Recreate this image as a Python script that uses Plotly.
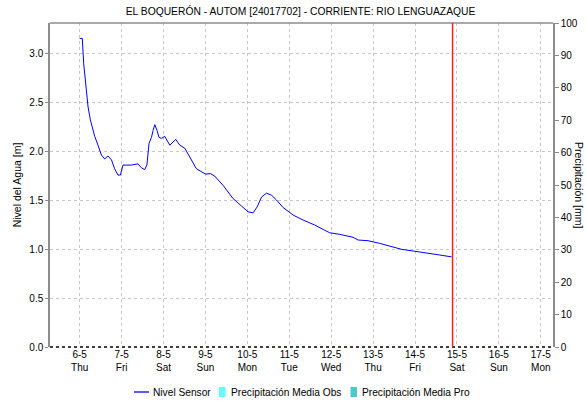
import plotly.graph_objects as go
import pandas as pd

# Water level series: hours since 2021-05-06 00:00 and level in metres
hours = [0, 1.5, 2.3, 3.4, 4.8, 6.1, 8.6, 10.5, 12.4, 14.3, 16.2, 18.2, 20.0, 21.9, 23.3,
         24.8, 29.6, 33.4, 35.3, 37.2, 38.5, 39.7, 41.1, 42.0, 43.0, 44.3, 45.4, 46.8,
         48.7, 51.6, 55.0, 57.3, 60.1, 63.0, 66.8, 70.6, 72.2, 74.9, 77.3, 82.1, 87.8,
         92.6, 96.4, 99.3, 101.6, 104.1, 106.9, 109.8, 112.7, 116.4, 120.3, 122.2,
         127.9, 134.6, 139.4, 143.2, 148.9, 156.5, 159.4, 165.1, 171.8, 177.6, 184.3,
         190.9, 198.6, 206.2, 213.0]
nivel = [3.15, 3.15, 2.89, 2.69, 2.45, 2.32, 2.15, 2.06, 1.96, 1.92, 1.95, 1.91, 1.82, 1.755,
         1.755, 1.857, 1.857, 1.87, 1.83, 1.81, 1.86, 2.08, 2.14, 2.21, 2.27, 2.21, 2.14,
         2.13, 2.15, 2.06, 2.12, 2.06, 2.03, 1.94, 1.82, 1.78, 1.765, 1.77, 1.745, 1.65,
         1.515, 1.44, 1.38, 1.37, 1.43, 1.53, 1.57, 1.55, 1.50, 1.425, 1.37, 1.347,
         1.296, 1.245, 1.20, 1.166, 1.15, 1.12, 1.092, 1.085, 1.058, 1.03, 0.997,
         0.98, 0.956, 0.939, 0.92]

start = pd.Timestamp("2021-05-06 00:00")
times = [start + pd.Timedelta(hours=h) for h in hours]
now_marker = pd.Timestamp("2021-05-14 21:30")

day_labels = ["6-5", "7-5", "8-5", "9-5", "10-5", "11-5", "12-5", "13-5", "14-5", "15-5", "16-5", "17-5"]
weekdays = ["Thu", "Fri", "Sat", "Sun", "Mon", "Tue", "Wed", "Thu", "Fri", "Sat", "Sun", "Mon"]
tick_vals = [start + pd.Timedelta(days=i) for i in range(len(day_labels))]
tick_text = [f"{d}<br>{w}" for d, w in zip(day_labels, weekdays)]

series_names = ["Nivel Sensor", "Precipitación Media Obs", "Precipitación Media Pro"]
series_colors = ["#0000ff", "#66ffff", "#4ccac6"]

font_family = "Liberation Sans, Arial, sans-serif"
grid_color = "#c8c8c8"
axis_color = "#8c8c8c"

W, H = 587, 401
ML, MR, MT, MB = 50, 34, 23, 54

fig = go.Figure()
fig.add_trace(go.Scatter(x=times, y=nivel, mode="lines", name=series_names[0],
                         line=dict(color=series_colors[0], width=1)))
fig.add_trace(go.Bar(x=[None], y=[None], name=series_names[1],
                     marker_color=series_colors[1], yaxis="y2"))
fig.add_trace(go.Bar(x=[None], y=[None], name=series_names[2],
                     marker_color=series_colors[2], yaxis="y2"))

fig.update_layout(
    width=W, height=H,
    margin=dict(l=ML, r=MR, t=MT, b=MB, autoexpand=False),
    paper_bgcolor="white", plot_bgcolor="white",
    font=dict(family=font_family, size=11, color="#000000"),
    title=dict(text="EL BOQUERÓN - AUTOM [24017702] - CORRIENTE: RIO LENGUAZAQUE",
               x=0.512, xanchor="center", y=0.972, yanchor="middle",
               font=dict(size=10.3, family=font_family, color="#000")),
    showlegend=False,
    xaxis=dict(
        range=[pd.Timestamp("2021-05-05 07:00"), pd.Timestamp("2021-05-17 07:00")],
        tickvals=tick_vals, ticktext=tick_text, tickfont=dict(size=10),
        showgrid=True, gridcolor=grid_color, griddash="dot", gridwidth=1,
        showline=False, zeroline=False, ticks="",
    ),
    yaxis=dict(
        range=[0, 3.3075], tick0=0, dtick=0.5, tickformat=".1f",
        tickfont=dict(size=10),
        title=dict(text="Nivel del Agua [m]", font=dict(size=10.5), standoff=6),
        showgrid=True, gridcolor=grid_color, griddash="dot", gridwidth=1,
        showline=True, linecolor=axis_color, linewidth=1.5,
        ticks="outside", ticklen=3, tickcolor=axis_color, zeroline=False,
    ),
    yaxis2=dict(
        range=[0, 100], dtick=10, overlaying="y", side="right",
        tickfont=dict(size=10), showgrid=False, zeroline=False,
        showline=True, linecolor=axis_color, linewidth=1.5,
        ticks="outside", ticklen=4, tickcolor=axis_color,
    ),
    bargap=0,
)

# Right-hand axis title, reading top to bottom
fig.add_annotation(text="Precipitación [mm]", xref="paper", yref="paper",
                   x=1.0, xshift=26, xanchor="center", y=0.5, textangle=90,
                   showarrow=False, font=dict(size=10.5, family=font_family))

# Top border of the plot frame
fig.add_shape(type="line", xref="paper", yref="paper", x0=0, x1=1, y0=1, y1=1,
              line=dict(color=axis_color, width=1.5))
# Dotted baseline along the time axis
fig.add_shape(type="line", xref="paper", yref="paper", x0=0, x1=1, y0=0, y1=0,
              line=dict(color="#000000", width=1.5, dash="dot"))
# Current-time marker
fig.add_shape(type="line", xref="x", yref="paper", x0=now_marker, x1=now_marker,
              y0=0, y1=1, line=dict(color="#ff2020", width=1.5))

# Compact legend row beneath the axis, in pixel positions converted to paper units
plot_w = W - ML - MR
plot_h = H - MT - MB


def px_x(px):
    return (px - ML) / plot_w


def px_y(py):
    return (H - MB - py) / plot_h


legend_y = 392
legend_font = dict(size=10.2, family=font_family)
# line swatch
fig.add_shape(type="line", xref="paper", yref="paper",
              x0=px_x(134), x1=px_x(149), y0=px_y(legend_y), y1=px_y(legend_y),
              line=dict(color=series_colors[0], width=1.3))
fig.add_annotation(text=series_names[0], xref="paper", yref="paper",
                   x=px_x(151), y=px_y(legend_y), xanchor="left", yanchor="middle",
                   showarrow=False, font=legend_font)
# box swatches
for left, text_left, name, color in [(219, 228.5, series_names[1], series_colors[1]),
                                     (350.5, 360, series_names[2], series_colors[2])]:
    fig.add_shape(type="rect", xref="paper", yref="paper",
                  x0=px_x(left), x1=px_x(left + 6.5),
                  y0=px_y(legend_y + 5), y1=px_y(legend_y - 5),
                  line=dict(width=0), fillcolor=color)
    fig.add_annotation(text=name, xref="paper", yref="paper",
                       x=px_x(text_left), y=px_y(legend_y), xanchor="left",
                       yanchor="middle", showarrow=False, font=legend_font)

fig.write_html("out.html")
